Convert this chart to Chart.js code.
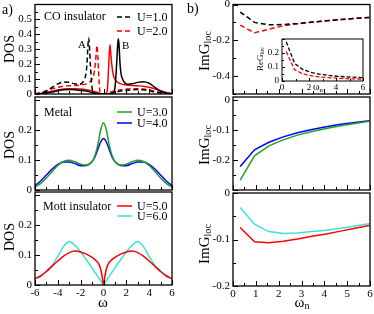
<!DOCTYPE html>
<html>
<head>
<meta charset="utf-8">
<script src="https://cdn.jsdelivr.net/npm/chart.js@4.4.1/dist/chart.umd.min.js"></script>
<style>
  body { margin: 0; background: #fff; }
  #fig { position: relative; width: 374px; height: 314px; overflow: hidden;
         font-family: "Liberation Serif", "DejaVu Serif", serif; color: #000; }
  canvas { position: absolute; left: 0; top: 0; }
  .t { position: absolute; white-space: nowrap; line-height: 1; transform: translateY(-50%); }
  .r { position: absolute; white-space: nowrap; line-height: 1; transform: translate(-50%, -50%) rotate(-90deg); }
  .c { position: absolute; white-space: nowrap; line-height: 1; transform: translate(-50%, -50%); }
  sub { font-size: 0.68em; vertical-align: -0.25em; line-height: 0; }
</style>
</head>
<body>
<div id="fig">
  <canvas id="coDos" width="374" height="314"></canvas>
  <canvas id="metalDos" width="374" height="314"></canvas>
  <canvas id="mottDos" width="374" height="314"></canvas>
  <canvas id="coImG" width="374" height="314"></canvas>
  <canvas id="coReG" width="374" height="314"></canvas>
  <canvas id="metalImG" width="374" height="314"></canvas>
  <canvas id="mottImG" width="374" height="314"></canvas>

  <div class="t" style="left:2px;top:10px;font-size:14px">a)</div>
  <div class="t" style="left:187px;top:9px;font-size:14px">b)</div>

  <div class="r" style="left:10px;top:49px;font-size:14px">DOS</div>
  <div class="r" style="left:10px;top:145px;font-size:14px">DOS</div>
  <div class="r" style="left:10px;top:237px;font-size:14px">DOS</div>
  <div class="c" style="left:103px;top:302px;font-size:15px">ω</div>

  <div class="r" style="left:204px;top:51px;font-size:15px">ImG<sub>loc</sub></div>
  <div class="r" style="left:204px;top:145px;font-size:15px">ImG<sub>loc</sub></div>
  <div class="r" style="left:204px;top:244px;font-size:15px">ImG<sub>loc</sub></div>
  <div class="c" style="left:302px;top:302px;font-size:15px">ω<sub>n</sub></div>

  <div class="r" style="left:260px;top:59px;font-size:9px">ReG<sub>loc</sub></div>
  <div class="c" style="left:318px;top:87px;font-size:10px">ω<sub>n</sub></div>

  <div class="t" style="left:44px;top:16px;font-size:12px">CO insulator</div>
  <div class="t" style="left:78px;top:44px;font-size:11px">A</div>
  <div class="t" style="left:122px;top:45px;font-size:11px">B</div>
  <div class="t" style="left:44px;top:112px;font-size:12px">Metal</div>
  <div class="t" style="left:43px;top:206px;font-size:12px">Mott insulator</div>
</div>

<script>
// ---------- data ----------
// a) CO insulator, sublattice A (dashed) and B (solid)
const coOmegaU1A = [-6,-5.5,-5,-4.5,-4,-3.5,-3,-2.5,-2.2,-2,-1.85,-1.7,-1.55,-1.45,-1.38,-1.31,-1.24,-1.15,-1.05,-0.95,-0.8,-0.5,0,0.5,1,1.5,2,2.5,3,3.5,4,4.5,5,5.5,6];
const coDosU1A   = [0,0.005,0.02,0.045,0.068,0.08,0.078,0.068,0.065,0.067,0.075,0.095,0.13,0.2,0.3,0.375,0.33,0.2,0.08,0.02,0.005,0,0,0.002,0.01,0.02,0.024,0.028,0.03,0.028,0.022,0.013,0.006,0.002,0];
const coOmegaU1B = [-6,-5.5,-5,-4.5,-4,-3.5,-3,-2.5,-2,-1.5,-1,-0.5,0,0.5,0.8,0.95,1.05,1.15,1.22,1.29,1.36,1.45,1.55,1.7,1.85,2,2.2,2.5,3,3.5,4,4.5,5,5.5,6];
const coDosU1B   = [0,0.002,0.006,0.013,0.022,0.028,0.03,0.028,0.024,0.02,0.01,0.002,0,0,0.005,0.02,0.08,0.2,0.3,0.37,0.33,0.2,0.13,0.095,0.075,0.067,0.065,0.068,0.078,0.082,0.072,0.045,0.02,0.005,0];
const coOmegaU2A = [-6,-5.5,-5,-4.5,-4,-3.5,-3,-2.5,-2,-1.5,-1.2,-1,-0.85,-0.72,-0.63,-0.57,-0.5,-0.43,-0.35,-0.25,-0.1,0,0.2,0.5,1,1.5,2,2.5,3,3.5,4,4.5,5,5.5,6];
const coDosU2A   = [0.003,0.01,0.022,0.035,0.045,0.052,0.055,0.057,0.06,0.068,0.08,0.1,0.13,0.2,0.28,0.325,0.26,0.15,0.04,0.005,0,0,0,0.01,0.02,0.028,0.033,0.036,0.036,0.033,0.027,0.018,0.01,0.004,0];
const coOmegaU2B = [-6,-5.5,-5,-4.5,-4,-3.5,-3,-2.5,-2,-1.5,-1,-0.5,-0.2,0,0.1,0.25,0.35,0.43,0.5,0.57,0.63,0.72,0.85,1,1.2,1.5,2,2.5,3,3.5,4,4.5,5,5.5,6];
const coDosU2B   = [0,0.004,0.01,0.018,0.027,0.033,0.036,0.036,0.033,0.028,0.02,0.01,0,0,0,0.005,0.04,0.15,0.26,0.33,0.28,0.2,0.13,0.1,0.08,0.068,0.06,0.057,0.055,0.052,0.045,0.035,0.022,0.01,0.003];

// a) Metal
const metalOmega = [-6,-5.5,-5,-4.5,-4,-3.5,-3,-2.5,-2,-1.5,-1,-0.75,-0.5,-0.25,0,0.25,0.5,0.75,1,1.5,2,2.5,3,3.5,4,4.5,5,5.5,6];
const dosU3 = [0.01,0.022,0.04,0.062,0.082,0.095,0.099,0.094,0.086,0.083,0.095,0.115,0.15,0.2,0.224,0.2,0.15,0.115,0.095,0.083,0.086,0.094,0.099,0.095,0.082,0.062,0.04,0.022,0.01];
const dosU4 = [0.015,0.03,0.05,0.07,0.085,0.093,0.093,0.088,0.081,0.082,0.095,0.11,0.135,0.16,0.172,0.16,0.135,0.11,0.095,0.082,0.081,0.088,0.093,0.093,0.085,0.07,0.05,0.03,0.015];

// a) Mott insulator
const mottOmega = [-6,-5.5,-5,-4.5,-4,-3.5,-3,-2.5,-2,-1.5,-1,-0.7,-0.5,-0.3,-0.15,-0.05,0,0.05,0.15,0.3,0.5,0.7,1,1.5,2,2.5,3,3.5,4,4.5,5,5.5,6];
const dosU5 = [0.021,0.03,0.045,0.063,0.08,0.096,0.108,0.113,0.11,0.103,0.092,0.083,0.075,0.06,0.035,0.01,0,0.01,0.035,0.06,0.075,0.083,0.092,0.103,0.11,0.113,0.108,0.096,0.08,0.063,0.045,0.03,0.021];
const dosU6 = [0.021,0.032,0.046,0.065,0.095,0.128,0.145,0.132,0.11,0.084,0.057,0.04,0.029,0.017,0.009,0.003,0,0.003,0.009,0.017,0.029,0.04,0.057,0.084,0.11,0.132,0.145,0.128,0.095,0.065,0.046,0.032,0.021];

// b) Matsubara axis (beta = 10)
const omegaN = [0.314,0.942,1.571,2.199,2.827,3.456,4.084,4.712,5.341,5.969];
const imgCoU1 = [-0.042,-0.100,-0.113,-0.112,-0.106,-0.098,-0.091,-0.084,-0.078,-0.072];
const imgCoU2 = [-0.115,-0.158,-0.138,-0.119,-0.108,-0.099,-0.091,-0.084,-0.078,-0.072];
const reCoU1  = [0.28,0.125,0.08,0.06,0.048,0.04,0.034,0.03,0.027,0.024];
const reCoU2  = [0.21,0.08,0.05,0.037,0.029,0.024,0.02,0.017,0.015,0.013];
const imgU3 = [-0.267,-0.186,-0.153,-0.133,-0.117,-0.105,-0.095,-0.086,-0.078,-0.071];
const imgU4 = [-0.222,-0.166,-0.141,-0.123,-0.109,-0.098,-0.089,-0.081,-0.075,-0.069];
const imgU5 = [-0.074,-0.105,-0.107,-0.104,-0.099,-0.093,-0.088,-0.082,-0.076,-0.070];
const imgU6 = [-0.031,-0.067,-0.083,-0.087,-0.086,-0.083,-0.080,-0.076,-0.071,-0.066];

// tick labels
const omegaLabels = [-6,-4,-2,0,2,4,6];
const omegaNLabels = [0,1,2,3,4,5,6];
const insetXLabels = [0,2,4,6];
const dosTopLabels = [0,0.1,0.2,0.3,0.4,0.5];
const dosLabels = [0,0.1,0.2];
const imgTopLabels = [0,-0.2,-0.4];
const imgMidLabels = [0,-0.1,-0.2];
const imgLowLabels = [0,-0.1,-0.2];
const reLabels = [0,0.1,0.2];

// ---------- drawing ----------
const W = 374, H = 314;
const SERIF = "'Liberation Serif', 'DejaVu Serif', serif";
const BLACK = "#000", RED = "#ff0000", GREEN = "#22a022", BLUE = "#0000ff", CYAN = "#3fe0d8";
const panels = {};

function fmt(v) {
  return String(Math.round(v * 100) / 100);
}

function eachTick(min, max, step, major, cb) {
  const k0 = Math.ceil(min / step - 1e-6), k1 = Math.floor(max / step + 1e-6);
  for (let k = k0; k <= k1; k++) {
    const v = k * step;
    const r = v / major;
    cb(v, Math.abs(r - Math.round(r)) < 1e-6);
  }
}

// inward ticks, frame, white fill for the inset, and the in-plot legend
const framePlugin = {
  id: "frameTicks",
  beforeDraw(chart) {
    const p = panels[chart.canvas.id];
    if (!p.fill) return;
    const a = chart.chartArea, ctx = chart.ctx;
    ctx.save();
    ctx.fillStyle = "#fff";
    ctx.fillRect(a.left, a.top, a.right - a.left, a.bottom - a.top);
    ctx.restore();
  },
  afterDraw(chart) {
    const p = panels[chart.canvas.id];
    const { ctx, chartArea: a, scales } = chart;
    const len = p.tickLen || [5, 3];
    ctx.save();
    ctx.strokeStyle = "#000";
    ctx.lineWidth = 1;
    eachTick(scales.x.min, scales.x.max, p.xStep[0], p.xStep[1], (v, major) => {
      const px = Math.round(scales.x.getPixelForValue(v)) + 0.5;
      ctx.beginPath();
      ctx.moveTo(px, a.bottom);
      ctx.lineTo(px, a.bottom - (major ? len[0] : len[1]));
      ctx.stroke();
    });
    eachTick(scales.y.min, scales.y.max, p.yStep[0], p.yStep[1], (v, major) => {
      const py = Math.round(scales.y.getPixelForValue(v)) + 0.5;
      ctx.beginPath();
      ctx.moveTo(a.left, py);
      ctx.lineTo(a.left + (major ? len[0] : len[1]), py);
      ctx.stroke();
    });
    ctx.lineWidth = p.frame || 1.3;
    ctx.strokeRect(a.left, a.top, a.right - a.left, a.bottom - a.top);

    if (p.legend) {
      const lg = p.legend;
      ctx.font = "12px " + SERIF;
      ctx.textBaseline = "middle";
      ctx.fillStyle = "#000";
      lg.rows.forEach((row) => {
        const ds = chart.data.datasets[row.ds];
        ctx.strokeStyle = ds.borderColor;
        ctx.lineWidth = ds.borderWidth;
        ctx.setLineDash(ds.borderDash || []);
        ctx.beginPath();
        ctx.moveTo(lg.x, row.y);
        ctx.lineTo(lg.x + lg.len, row.y);
        ctx.stroke();
        ctx.setLineDash([]);
        ctx.fillText(ds.label, lg.x + lg.len + 5, row.y + 0.5);
      });
    }
    ctx.restore();
  }
};

function makePanel(p) {
  panels[p.id] = p;
  const fnt = { family: SERIF, size: p.tickSize || 11 };
  const axisW = p.axisW || 30, axisH = p.axisH || 18;
  new Chart(document.getElementById(p.id), {
    type: "line",
    data: {
      datasets: p.series.map((s) => ({
        label: s.label,
        data: s.x.map((x, i) => ({ x: x, y: s.y[i] })),
        borderColor: s.color,
        borderWidth: s.width || 1.5,
        borderDash: s.dash || [],
        pointRadius: 0,
        fill: false,
        tension: 0,
        cubicInterpolationMode: p.smooth ? "monotone" : "default"
      }))
    },
    options: {
      responsive: false,
      animation: false,
      events: [],
      layout: {
        padding: { left: p.box.l - axisW, top: p.box.t, right: W - p.box.r, bottom: H - p.box.b - axisH }
      },
      plugins: { legend: { display: false }, tooltip: { enabled: false } },
      scales: {
        x: {
          type: "linear", min: p.xr[0], max: p.xr[1],
          grid: { display: false, drawTicks: false }, border: { display: false },
          ticks: { display: p.showX, autoSkip: false, maxRotation: 0, padding: p.xPad || 2,
                   color: "#000", font: fnt, callback: fmt },
          afterBuildTicks: (s) => { s.ticks = p.xLabels.map((v) => ({ value: v })); },
          afterFit: (s) => { s.height = axisH; s.paddingLeft = 0; s.paddingRight = 0; }
        },
        y: {
          type: "linear", min: p.yr[0], max: p.yr[1],
          grid: { display: false, drawTicks: false }, border: { display: false },
          ticks: { autoSkip: false, padding: p.yPad || 3, color: "#000", font: fnt, callback: fmt },
          afterBuildTicks: (s) => { s.ticks = p.yLabels.map((v) => ({ value: v })); },
          afterFit: (s) => { s.width = axisW; s.paddingTop = 0; s.paddingBottom = 0; }
        }
      }
    },
    plugins: [framePlugin]
  });
}

const DASH = [5, 3];

makePanel({
  id: "coDos", box: { l: 35, t: 4.5, r: 172, b: 94 }, xr: [-6, 6], yr: [0, 0.6], smooth: true,
  xLabels: omegaLabels, showX: false, yLabels: dosTopLabels, xStep: [1, 2], yStep: [0.05, 0.1],
  series: [
    { label: "U=1.0", x: coOmegaU1A, y: coDosU1A, color: BLACK, dash: DASH },
    { label: "U=1.0 (B)", x: coOmegaU1B, y: coDosU1B, color: BLACK },
    { label: "U=2.0", x: coOmegaU2A, y: coDosU2A, color: RED, dash: DASH },
    { label: "U=2.0 (B)", x: coOmegaU2B, y: coDosU2B, color: RED }
  ],
  legend: { x: 117, len: 15, rows: [{ ds: 0, y: 17 }, { ds: 2, y: 31 }] }
});

makePanel({
  id: "metalDos", box: { l: 35, t: 97, r: 172, b: 190 }, xr: [-6, 6], yr: [0, 0.31], smooth: true,
  xLabels: omegaLabels, showX: false, yLabels: dosLabels, xStep: [1, 2], yStep: [0.05, 0.1],
  series: [
    { label: "U=3.0", x: metalOmega, y: dosU3, color: GREEN },
    { label: "U=4.0", x: metalOmega, y: dosU4, color: BLUE }
  ],
  legend: { x: 117, len: 15, rows: [{ ds: 0, y: 112 }, { ds: 1, y: 123 }] }
});

makePanel({
  id: "mottDos", box: { l: 35, t: 192, r: 172, b: 285 }, xr: [-6, 6], yr: [0, 0.31], smooth: true,
  xLabels: omegaLabels, showX: true, yLabels: dosLabels, xStep: [1, 2], yStep: [0.05, 0.1],
  series: [
    { label: "U=5.0", x: mottOmega, y: dosU5, color: RED },
    { label: "U=6.0", x: mottOmega, y: dosU6, color: CYAN }
  ],
  legend: { x: 117, len: 15, rows: [{ ds: 0, y: 206 }, { ds: 1, y: 216 }] }
});

makePanel({
  id: "coImG", box: { l: 233, t: 4.5, r: 370, b: 94 }, xr: [0, 6], yr: [-0.5, 0],
  xLabels: omegaNLabels, showX: false, yLabels: imgTopLabels, xStep: [0.5, 1], yStep: [0.1, 0.2],
  series: [
    { label: "U=1.0", x: omegaN, y: imgCoU1, color: BLACK, dash: DASH },
    { label: "U=2.0", x: omegaN, y: imgCoU2, color: RED, dash: DASH }
  ]
});

makePanel({
  id: "coReG", box: { l: 282, t: 39, r: 363, b: 81 }, xr: [0, 6], yr: [0, 0.3], fill: true,
  tickSize: 9, axisW: 20, axisH: 12, xPad: 1, yPad: 3, tickLen: [3, 2], frame: 1,
  xLabels: insetXLabels, showX: true, yLabels: reLabels, xStep: [1, 2], yStep: [0.05, 0.1],
  series: [
    { label: "U=1.0", x: omegaN, y: reCoU1, color: BLACK, dash: [4, 2], width: 1.3 },
    { label: "U=2.0", x: omegaN, y: reCoU2, color: RED, dash: [4, 2], width: 1.3 }
  ]
});

makePanel({
  id: "metalImG", box: { l: 233, t: 97, r: 370, b: 190 }, xr: [0, 6], yr: [-0.3, 0.01],
  xLabels: omegaNLabels, showX: false, yLabels: imgMidLabels, xStep: [0.5, 1], yStep: [0.05, 0.1],
  series: [
    { label: "U=3.0", x: omegaN, y: imgU3, color: GREEN },
    { label: "U=4.0", x: omegaN, y: imgU4, color: BLUE }
  ]
});

makePanel({
  id: "mottImG", box: { l: 233, t: 193, r: 370, b: 286 }, xr: [0, 6], yr: [-0.2, 0],
  xLabels: omegaNLabels, showX: true, yLabels: imgLowLabels, xStep: [0.5, 1], yStep: [0.05, 0.1],
  series: [
    { label: "U=5.0", x: omegaN, y: imgU5, color: RED },
    { label: "U=6.0", x: omegaN, y: imgU6, color: CYAN }
  ]
});
</script>
</body>
</html>
